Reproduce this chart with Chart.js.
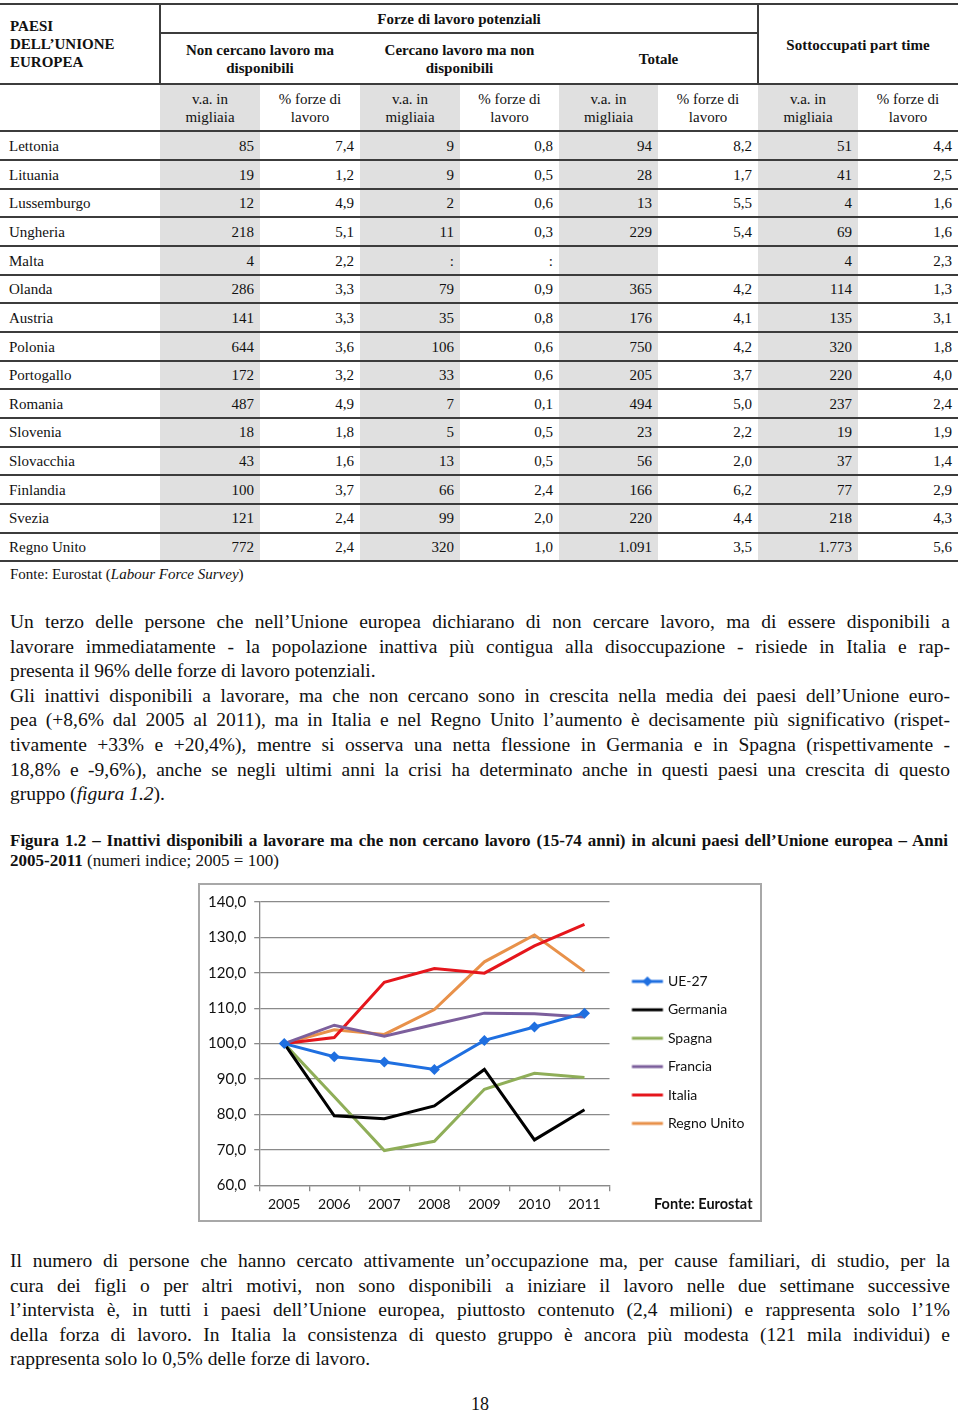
<!DOCTYPE html>
<html><head><meta charset="utf-8">
<script src="https://cdn.jsdelivr.net/npm/chart.js@4.4.1/dist/chart.umd.min.js"></script>
<style>
html,body{margin:0;padding:0;background:#fff;}
body{width:960px;height:1414px;position:relative;overflow:hidden;font-family:'Liberation Serif','Times New Roman',serif;color:#111;}
.a{position:absolute;}
.hl{position:absolute;height:2px;background:#3c3c3c;}
.vl{position:absolute;width:2px;background:#3c3c3c;}
.sh{position:absolute;background:#e0e0e0;}
.th{position:absolute;font-weight:bold;font-size:15px;line-height:18px;text-align:center;display:flex;align-items:center;justify-content:center;}
.sub{position:absolute;font-size:15px;line-height:18px;text-align:center;}
.cell{position:absolute;font-size:15px;line-height:18px;white-space:nowrap;font-family:'Liberation Serif',serif;}
.p{position:absolute;left:10px;width:940px;font-size:19.5px;line-height:24.6px;text-align:justify;text-align-last:justify;}
.pl{text-align-last:left;}
.cap{position:absolute;left:10px;width:938px;font-size:17px;font-weight:bold;line-height:20px;text-align:justify;text-align-last:justify;white-space:nowrap;}
</style></head>
<body>
<div id="tbl"></div>

<div class="p" style="top:610px">Un terzo delle persone che nell’Unione europea dichiarano di non cercare lavoro, ma di essere disponibili a</div>
<div class="p" style="top:634.6px">lavorare immediatamente - la popolazione inattiva più contigua alla disoccupazione - risiede in Italia e rap-</div>
<div class="p pl" style="top:659.2px;letter-spacing:-0.1px">presenta il 96% delle forze di lavoro potenziali.</div>
<div class="p" style="top:683.8px">Gli inattivi disponibili a lavorare, ma che non cercano sono in crescita nella media dei paesi dell’Unione euro-</div>
<div class="p" style="top:708.4px">pea (+8,6% dal 2005 al 2011), ma in Italia e nel Regno Unito l’aumento è decisamente più significativo (rispet-</div>
<div class="p" style="top:733px">tivamente +33% e +20,4%), mentre si osserva una netta flessione in Germania e in Spagna (rispettivamente -</div>
<div class="p" style="top:757.6px">18,8% e -9,6%), anche se negli ultimi anni la crisi ha determinato anche in questi paesi una crescita di questo</div>
<div class="p pl" style="top:782.2px">gruppo (<i>figura 1.2</i>).</div>

<div class="cap" style="top:831px">Figura 1.2 – Inattivi disponibili a lavorare ma che non cercano lavoro (15-74 anni) in alcuni paesi dell’Unione europea – Anni</div>
<div class="cap" style="top:851px;text-align-last:left">2005-2011 <span style="font-weight:normal">(numeri indice; 2005 = 100)</span></div>

<div class="a" style="left:198px;top:883px;width:564px;height:339px;border:2px solid #a8a8a8;box-sizing:border-box;"></div>
<canvas id="c" class="a" width="560" height="335" style="left:200px;top:885px;width:560px;height:335px;"></canvas>
<div class="a" style="left:654px;top:1195px;font-family:Lato,sans-serif;font-weight:bold;font-size:14.5px;line-height:18px;color:#111;">Fonte: Eurostat</div>

<div class="p" style="top:1249px">Il numero di persone che hanno cercato attivamente un’occupazione ma, per cause familiari, di studio, per la</div>
<div class="p" style="top:1273.6px">cura dei figli o per altri motivi, non sono disponibili a iniziare il lavoro nelle due settimane successive</div>
<div class="p" style="top:1298.2px">l’intervista è, in tutti i paesi dell’Unione europea, piuttosto contenuto (2,4 milioni) e rappresenta solo l’1%</div>
<div class="p" style="top:1322.8px">della forza di lavoro. In Italia la consistenza di questo gruppo è ancora più modesta (121 mila individui) e</div>
<div class="p pl" style="top:1347.4px">rappresenta solo lo 0,5% delle forze di lavoro.</div>

<div class="a" style="left:0;width:960px;top:1393px;text-align:center;font-size:18px;line-height:22px;">18</div>

<script>
// ---------- Table data ----------
const countries = ['Lettonia','Lituania','Lussemburgo','Ungheria','Malta','Olanda','Austria','Polonia','Portogallo','Romania','Slovenia','Slovacchia','Finlandia','Svezia','Regno Unito'];
const nonCercanoVa  = ['85','19','12','218','4','286','141','644','172','487','18','43','100','121','772'];
const nonCercanoPct = ['7,4','1,2','4,9','5,1','2,2','3,3','3,3','3,6','3,2','4,9','1,8','1,6','3,7','2,4','2,4'];
const cercanoVa     = ['9','9','2','11',':','79','35','106','33','7','5','13','66','99','320'];
const cercanoPct    = ['0,8','0,5','0,6','0,3',':','0,9','0,8','0,6','0,6','0,1','0,5','0,5','2,4','2,0','1,0'];
const totaleVa      = ['94','28','13','229','','365','176','750','205','494','23','56','166','220','1.091'];
const totalePct     = ['8,2','1,7','5,5','5,4','','4,2','4,1','4,2','3,7','5,0','2,2','2,0','6,2','4,4','3,5'];
const sottoVa       = ['51','41','4','69','4','114','135','320','220','237','19','37','77','218','1.773'];
const sottoPct      = ['4,4','2,5','1,6','1,6','2,3','1,3','3,1','1,8','4,0','2,4','1,9','1,4','2,9','4,3','5,6'];

// ---------- Chart data ----------
const years = ['2005','2006','2007','2008','2009','2010','2011'];
const ue27     = [100, 96.3, 94.8, 92.7, 100.9, 104.7, 108.6];
const germania = [100, 79.6, 78.8, 82.4, 92.7, 72.8, 81.3];
const spagna   = [100, 85.0, 69.8, 72.4, 87.1, 91.6, 90.4];
const francia  = [100, 105.2, 102.1, 105.4, 108.6, 108.4, 107.5];
const italia   = [100, 101.7, 117.3, 121.2, 119.9, 127.6, 133.7];
const regnoUnito = [100, 103.9, 102.6, 109.6, 123.1, 130.7, 120.4];
const seriesNames = ['UE-27','Germania','Spagna','Francia','Italia','Regno Unito'];

// ---------- Build table ----------
(function(){
  const t = document.getElementById('tbl');
  const colX = [0,160,260,360,460,559,658,758,858,958];
  const add = (cls, style, html) => { const d=document.createElement('div'); d.className=cls; d.setAttribute('style',style); if(html!==undefined) d.innerHTML=html; t.appendChild(d); return d; };
  const rowTop = 132, rowH = 28.64, nRows = countries.length;
  const bottom = rowTop + rowH*nRows;
  [1,3,5,7].forEach(c => add('sh', `left:${colX[c]}px;width:${colX[c+1]-colX[c]}px;top:84px;height:${bottom-84}px`));
  add('hl', 'left:0;width:958px;top:3px');
  add('hl', 'left:160px;width:598px;top:32px');
  add('hl', 'left:0;width:958px;top:83px');
  add('hl', 'left:0;width:958px;top:130px');
  for(let i=1;i<=nRows;i++) add('hl', `left:0;width:958px;top:${(rowTop+rowH*i-1.5).toFixed(1)}px`);
  add('vl', 'left:159px;top:3px;height:82px');
  add('vl', 'left:757px;top:3px;height:82px');
  add('a', 'left:10px;top:17px;font-weight:bold;font-size:15px;line-height:18px', 'PAESI<br>DELL’UNIONE<br>EUROPEA');
  add('th', 'left:160px;width:598px;top:5px;height:27px', 'Forze di lavoro potenziali');
  add('th', 'left:160px;width:200px;top:34px;height:50px', 'Non cercano lavoro ma<br>disponibili');
  add('th', 'left:360px;width:199px;top:34px;height:50px', 'Cercano lavoro ma non<br>disponibili');
  add('th', 'left:559px;width:199px;top:34px;height:50px', 'Totale');
  add('th', 'left:758px;width:200px;top:5px;height:79px', 'Sottoccupati part time');
  for(let c=1;c<=8;c++){
    const txt = (c%2===1) ? 'v.a. in<br>migliaia' : '% forze di<br>lavoro';
    add('sub', `left:${colX[c]}px;width:${colX[c+1]-colX[c]}px;top:90px`, txt);
  }
  const cols = [nonCercanoVa, nonCercanoPct, cercanoVa, cercanoPct, totaleVa, totalePct, sottoVa, sottoPct];
  countries.forEach((name,i) => {
    const y = rowTop + rowH*i + 5;
    add('cell', `left:9px;top:${y.toFixed(1)}px`, name);
    cols.forEach((arr,c) => {
      add('cell', `left:${colX[c+1]}px;width:${colX[c+2]-colX[c+1]-6}px;text-align:right;top:${y.toFixed(1)}px`, arr[i]);
    });
  });
  add('cell', `left:10px;top:${(bottom+3).toFixed(1)}px`, 'Fonte: Eurostat (<i>Labour Force Survey</i>)');
})();

// ---------- Chart ----------
const colors = ['#1f6fe0','#000000','#8fae58','#7c5f9c','#e5161c','#e8914a'];
const seriesData = [ue27, germania, spagna, francia, italia, regnoUnito];

function legendIcon(color, diamond){
  const cv = document.createElement('canvas');
  cv.width = 44; cv.height = 12;
  const x = cv.getContext('2d');
  x.strokeStyle = color; x.lineWidth = 3;
  x.beginPath(); x.moveTo(11.5,6); x.lineTo(42.5,6); x.stroke();
  if(diamond){
    x.fillStyle = color;
    x.beginPath(); x.moveTo(27,1); x.lineTo(32,6); x.lineTo(27,11); x.lineTo(22,6); x.closePath(); x.fill();
  }
  return cv;
}

const datasets = seriesNames.map((n,i) => ({
  label: n,
  data: seriesData[i],
  borderColor: colors[i],
  backgroundColor: colors[i],
  borderWidth: 3,
  tension: 0,
  pointStyle: 'rectRot',
  pointRadius: i===0 ? 5.5 : 0,
  pointHoverRadius: i===0 ? 5.5 : 0,
  pointBorderWidth: 0,
  fill: false
}));

new Chart(document.getElementById('c'), {
  type: 'line',
  data: { labels: years, datasets },
  options: {
    responsive: false,
    animation: false,
    devicePixelRatio: 1,
    layout: { padding: { left: 0, top: 16, bottom: 2, right: 14 } },
    plugins: {
      tooltip: { enabled: false },
      legend: {
        position: 'right',
        align: 'start',
        title: { display: true, text: '', padding: { top: 47, bottom: 0 }, font: { size: 10 } },
        labels: {
          usePointStyle: true,
          pointStyleWidth: 37,
          boxHeight: 12,
          padding: 14.4,
          color: '#111',
          font: { family: 'Lato', size: 14 },
          generateLabels: (chart) => chart.data.datasets.map((ds,i) => ({
            text: ds.label,
            fillStyle: ds.borderColor,
            strokeStyle: ds.borderColor,
            lineWidth: 0,
            hidden: false,
            datasetIndex: i,
            pointStyle: legendIcon(ds.borderColor, i===0),
            fontColor: '#111'
          }))
        }
      }
    },
    scales: {
      x: {
        offset: true,
        grid: { drawOnChartArea: false, offset: true, tickLength: 6, color: '#8a8a8a', lineWidth: 1.3 },
        border: { color: '#8a8a8a', width: 1.3 },
        ticks: { color: '#111', padding: 5, font: { family: 'Lato', size: 14 }, maxRotation: 0 }
      },
      y: {
        min: 60, max: 140,
        ticks: { stepSize: 10, color: '#111', padding: 8, font: { family: 'Lato', size: 15 },
                 callback: v => v.toFixed(1).replace('.', ',') },
        grid: { color: '#8a8a8a', lineWidth: 1.3, tickLength: 5 },
        border: { color: '#8a8a8a', width: 1.3 }
      }
    }
  }
});
</script>
</body></html>
